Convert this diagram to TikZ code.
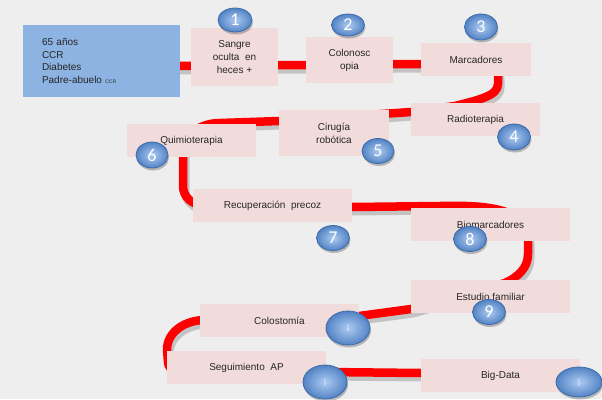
\documentclass[tikz,border=0pt]{standalone}
\usepackage{fontspec}
\setmainfont{Liberation Sans}
\newfontfamily\numfont{Carlito}
\usetikzlibrary{shadows,backgrounds,shapes.geometric}
\definecolor{bgc}{HTML}{EEEEEE}
\definecolor{pinkc}{HTML}{F2DCDB}
\definecolor{bluebox}{HTML}{8DB3E2}
\definecolor{ballin}{HTML}{AECBF2}
\definecolor{ballout}{HTML}{5283C4}
\definecolor{balledge}{HTML}{3C6BAA}
\definecolor{txt}{HTML}{262626}
\def\threadpath{(178,66) -- (306,65) -- (421,64) -- (488,64) to[out=0,in=90] (498,76) -- (498,84) .. controls (498,96) and (478,100) .. (455,106) -- (411,112) -- (279,121) -- (220,123) to[out=180,in=90] (183,152) -- (183,186) to[out=-90,in=180] (203,205) -- (352,207) -- (440,206) .. controls (505,204) and (528,215) .. (528,240) -- (528,254) .. controls (528,268) and (518,277) .. (505,283) -- (411,309) -- (359,316) -- (205,320) to[out=180,in=90] (167,350) -- (168,362) to[out=-90,in=180] (190,372) -- (326,372) -- (421,373) -- (470,374)}
\begin{document}
\begin{tikzpicture}[x=1pt,y=-1pt,
  stepbox/.style={rectangle, fill=pinkc, inner sep=0pt, align=center,
    font=\fontsize{10}{13}\selectfont, text=txt},
  ball/.style={ellipse, inner sep=0pt, inner color=ballin, outer color=ballout,
    draw=balledge, line width=0.8pt, text=white, align=center,
    font=\numfont\fontsize{18}{18}\selectfont,
    drop shadow={shadow xshift=1pt, shadow yshift=-2.5pt, opacity=0.35, fill=black!70}},
  small/.style={ball, minimum width=44pt, minimum height=34pt,
    font=\fontsize{4}{4.5}\selectfont, text=white},
  thread/.style={draw=red, line width=8.5pt, line join=round},
  threadshadow/.style={draw=black, opacity=0.18, line width=9pt, line join=round}
]
\useasboundingbox (0,0) rectangle (602,399);

% boxes
\node[rectangle, fill=bluebox, inner xsep=19pt, inner ysep=0pt, text width=119pt,
  minimum height=72pt, align=left, text=txt, font=\fontsize{10}{12.7}\selectfont]
  (pat) at (101.5,61) {65 años\\CCR\\Diabetes\\Padre-abuelo {\fontsize{5}{5}\selectfont CCR}};
\node[stepbox, minimum width=87pt, minimum height=58pt] (sangre) at (234.5,57) {Sangre\\oculta\ \ en\\heces\ +};
\node[stepbox, minimum width=87pt, minimum height=46pt] (colon) at (349.5,60) {Colonosc\\opia};
\node[stepbox, minimum width=110pt, minimum height=33pt] (marc) at (476,59.5) {Marcadores};
\node[stepbox, minimum width=129pt, minimum height=33pt] (radio) at (475.5,119.5) {Radioterapia};
\node[stepbox, minimum width=110pt, minimum height=46pt] (ciru) at (334,133) {Cirugía\\robótica};
\node[stepbox, minimum width=129pt, minimum height=33pt] (quimio) at (191.5,140.5) {Quimioterapia};
\node[stepbox, minimum width=159pt, minimum height=33pt] (recup) at (272.5,205.5) {Recuperación\ \ precoz};
\node[stepbox, minimum width=159pt, minimum height=33pt] (bio) at (490.5,224.5) {Biomarcadores};
\node[stepbox, minimum width=159pt, minimum height=33pt] (estudio) at (490.5,296.5) {Estudio familiar};
\node[stepbox, minimum width=159pt, minimum height=33pt] (colos) at (279.5,320.5) {Colostomía};
\node[stepbox, minimum width=159pt, minimum height=33pt] (segui) at (246.5,367.5) {Seguimiento\ \ AP};
\node[stepbox, minimum width=159pt, minimum height=33pt] (big) at (500.5,375.5) {Big-Data};

% numbered balls
\node[ball, minimum width=34pt, minimum height=24pt] (c1) at (235,20) {1};
\node[ball, minimum width=33pt, minimum height=22pt] (c2) at (348,25) {2};
\node[ball, minimum width=33pt, minimum height=26pt] (c3) at (481,27) {3};
\node[ball, minimum width=33pt, minimum height=26pt] (c4) at (514,137) {4};
\node[ball, minimum width=32pt, minimum height=25pt] (c5) at (378,151) {5};
\node[ball, minimum width=32pt, minimum height=26pt] (c6) at (152,155) {6};
\node[ball, minimum width=33pt, minimum height=25pt] (c7) at (333,238) {7};
\node[ball, minimum width=33pt, minimum height=25pt] (c8) at (470,239) {8};
\node[ball, minimum width=33pt, minimum height=25pt] (c9) at (489,312) {9};
\node[small] (c10) at (348,328) {1\\0};
\node[small] (c11) at (325,382) {1\\1};
\node[small, minimum width=46pt, minimum height=30pt] (c12) at (579,382) {1\\2};

\begin{scope}[on background layer]
  \fill[bgc] (0,0) rectangle (602,399);
  \path[threadshadow, shift={(2,4)}] \threadpath;
  \path[thread] \threadpath;
\end{scope}
\end{tikzpicture}
\end{document}
